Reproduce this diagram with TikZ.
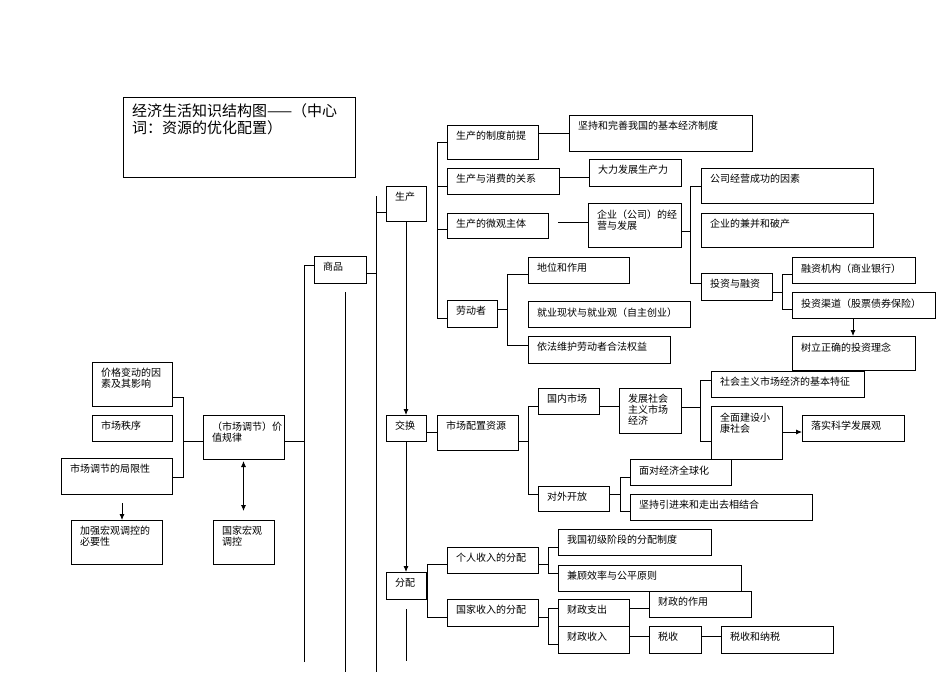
\documentclass[tikz,border=0pt]{standalone}
\usepackage{fontspec}
\setmainfont{Noto Sans CJK SC}
\usetikzlibrary{arrows.meta,calc}
\tikzset{
  box/.style={draw, line width=0.9pt, inner sep=0pt, outer sep=0pt, anchor=north west},
  txt/.style={inner sep=0pt, outer sep=0pt, anchor=north west, align=left, font=\fontsize{10}{11}\selectfont},
  ln/.style={line width=0.8pt},
  arr/.style={ln, -{Latex[length=6pt,width=5pt]}},
  darr/.style={ln, {Latex[length=6pt,width=5pt]}-{Latex[length=6pt,width=5pt]}},
}
\newcommand\bx[6]{%
  \node[box, minimum width={#4-#2}, minimum height={#5-#3}] (#1) at (#2,#3) {};
  \node[txt] (#1t) at ($(#1.north west)+(9,6.5)$) {#6};}
\begin{document}
\begin{tikzpicture}[x=1pt,y=-1pt]
\useasboundingbox (0,0) rectangle (950,672);
\fill[white] (0,0) rectangle (950,672);

% title
\node[box, minimum width=232, minimum height=80] (tt) at (123,97) {};
\node[txt, font=\fontsize{15}{17}\selectfont] (ttt) at ($(tt.north west)+(9,7)$) {经济生活知识结构图——（中心\\词：资源的优化配置）};

% boxes
\bx{sp}{314}{256}{366}{283}{商品}
\bx{scn}{386}{186}{426}{221}{生产}
\bx{zd}{447}{125}{538}{159}{生产的制度前提}
\bx{xf}{447}{168}{559}{194}{生产与消费的关系}
\bx{wg}{447}{213}{548}{238}{生产的微观主体}
\bx{ld}{447}{300}{497}{327}{劳动者}
\bx{jc}{569}{115}{752}{151}{坚持和完善我国的基本经济制度}
\bx{dl}{589}{159}{681}{186}{大力发展生产力}
\bx{qy}{588}{203}{681}{247}{企业（公司）的经\\营与发展}
\bx{gs}{701}{168}{873}{203}{公司经营成功的因素}
\bx{jb}{701}{213}{873}{247}{企业的兼并和破产}
\bx{tz}{701}{273}{772}{300}{投资与融资}
\bx{rz}{792}{257}{915}{283}{融资机构（商业银行）}
\bx{tq}{792}{292}{935}{318}{投资渠道（股票债券保险）}
\bx{sl}{792}{336}{915}{370}{树立正确的投资理念}
\bx{dw}{528}{257}{629}{283}{地位和作用}
\bx{jy}{528}{301}{690}{327}{就业现状与就业观（自主创业）}
\bx{yf}{528}{336}{670}{363}{依法维护劳动者合法权益}
\bx{jh}{386}{415}{426}{441}{交换}
\bx{pz}{437}{415}{518}{450}{市场配置资源}
\bx{gn}{538}{388}{599}{414}{国内市场}
\bx{dk}{538}{486}{609}{511}{对外开放}
\bx{fz}{619}{388}{681}{433}{发展社会\\主义市场\\经济}
\bx{tzz}{711}{371}{864}{397}{社会主义市场经济的基本特征}
\bx{qm}{711}{406}{782}{459}{全面建设小\\康社会}
\bx{ls}{802}{415}{904}{441}{落实科学发展观}
\bx{mj}{630}{459}{731}{485}{面对经济全球化}
\bx{jj}{630}{494}{812}{520}{坚持引进来和走出去相结合}
\bx{fp}{386}{572}{426}{599}{分配}
\bx{gr}{447}{547}{538}{573}{个人收入的分配}
\bx{gj}{447}{599}{538}{626}{国家收入的分配}
\bx{wc}{558}{529}{711}{555}{我国初级阶段的分配制度}
\bx{jg}{558}{565}{741}{591}{兼顾效率与公平原则}
\bx{cz}{558}{599}{629}{626}{财政支出}
\bx{cs}{558}{626}{629}{653}{财政收入}
\bx{cy}{649}{591}{751}{617}{财政的作用}
\bx{sh}{649}{626}{701}{653}{税收}
\bx{ss}{721}{626}{833}{653}{税收和纳税}
\bx{pj}{92}{362}{172}{406}{价格变动的因\\素及其影响}
\bx{zx}{92}{415}{172}{441}{市场秩序}
\bx{jx}{61}{458}{172}{494}{市场调节的局限性}
\bx{jz}{203}{415}{284}{459}{（市场调节）价\\值规律}
\bx{jq}{71}{520}{162}{564}{加强宏观调控的\\必要性}
\bx{gk}{213}{520}{274}{564}{国家宏观\\调控}

% main spines
\draw[ln] (304,662) -- (304,265) -- (sp.west |- 0,265);
\draw[ln] (sp.east |- 0,273) -- (376,273);
\draw[ln] (345,292) -- (345,672);
\draw[ln] (376,196) -- (376,672);
\draw[ln] (376,212) -- (scn.west |- 0,212);
\draw[ln] (jz.east |- 0,441) -- (304,441);

% left part
\draw[ln] (pj.east |- 0,397) -| (183,477) -- (jx.east |- 0,477);
\draw[ln] (183,441) -- (jz.west |- 0,441);
\draw[darr] ($(jz.south)+(0,2)$) -- ($(gk.north)+(0,-9)$);
\draw[arr] (122,503) -- (jq.north -| 122,0);

% production
\draw[arr] (scn.south) -- (jh.north);
\draw[ln] (zd.west) -- (437,142) -- (437,318) -- (ld.west |- 0,318);
\draw[ln] (437,186) -- (xf.west |- 0,186);
\draw[ln] (437,229) -- (wg.west |- 0,229);
\draw[ln] (zd.east |- 0,133) -- (jc.west |- 0,133);
\draw[ln] (xf.east |- 0,177) -- (dl.west |- 0,177);
\draw[ln] (558,222) -- (qy.west |- 0,222);
\draw[ln] (qy.east |- 0,231) -- (690,231);
\draw[ln] (gs.west |- 0,186) -| (690,283) -- (tz.west |- 0,283);
\draw[ln] (tz.east |- 0,292) -- (782,292);
\draw[ln] (rz.west |- 0,274) -| (782,309) -- (tq.west |- 0,309);
\draw[arr] (tq.south -| 853,0) -- (sl.north -| 853,0);
\draw[ln] (ld.east |- 0,309) -- (507,309);
\draw[ln] (dw.west |- 0,274) -| (507,345) -- (yf.west |- 0,345);

% exchange
\draw[arr] (jh.south) -- (fp.north);
\draw[ln] (jh.east |- 0,432) -- (pz.west |- 0,432);
\draw[ln] (pz.east |- 0,441) -- (528,441);
\draw[ln] (gn.west |- 0,406) -| (528,494) -- (dk.west |- 0,494);
\draw[ln] (gn.east |- 0,406) -- (fz.west |- 0,406);
\draw[ln] (fz.east |- 0,407) -- (700,407);
\draw[ln] (tzz.west |- 0,380) -| (700,441) -- (qm.west |- 0,441);
\draw[arr] (qm.east |- 0,432) -- (ls.west |- 0,432);
\draw[ln] (dk.east |- 0,494) -- (620,494);
\draw[ln] (mj.west |- 0,477) -| (620,511) -- (jj.west |- 0,511);

% distribution
\draw[ln] (406,609) -- (406,661);
\draw[ln] (gr.west |- 0,564) -| (427,617) -- (gj.west |- 0,617);
\draw[ln] (gr.east |- 0,564) -- (548,564);
\draw[ln] (wc.west |- 0,547) -| (548,573) -- (jg.west |- 0,573);
\draw[ln] (gj.east |- 0,617) -- (548,617);
\draw[ln] (cz.west |- 0,608) -| (548,644) -- (cs.west |- 0,644);
\draw[ln] (cz.east |- 0,608) -- (cy.west |- 0,608);
\draw[ln] (cs.east |- 0,636) -- (sh.west |- 0,636);
\draw[ln] (sh.east |- 0,636) -- (ss.west |- 0,636);
\end{tikzpicture}
\end{document}
